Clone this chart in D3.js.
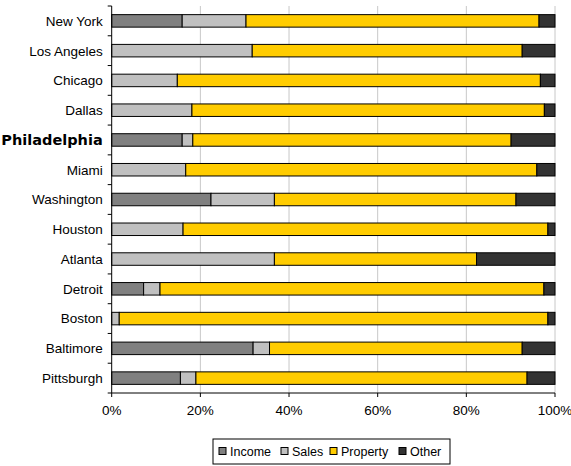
<!DOCTYPE html>
<html>
<head>
<meta charset="utf-8">
<script src="https://cdn.jsdelivr.net/npm/d3@7/dist/d3.min.js"></script>
<style>
  body { margin: 0; background: #fff; }
  svg { display: block; font-family: "Liberation Sans", Arial, sans-serif; }
</style>
</head>
<body>
<div id="chart"></div>
<script>
// city tax revenue shares (%)
var cities = ["New York", "Los Angeles", "Chicago", "Dallas", "Philadelphia", "Miami",
  "Washington", "Houston", "Atlanta", "Detroit", "Boston", "Baltimore", "Pittsburgh"];
var income   = [15.9, 0,    0,    0,    15.9, 0,    22.4, 0,    0,    7.2,  0,    31.9, 15.5];
var sales    = [14.4, 31.7, 14.8, 18.1, 2.4,  16.7, 14.3, 16.1, 36.7, 3.7,  1.7,  3.7,  3.5];
var property = [66.1, 60.9, 81.9, 79.5, 71.8, 79.2, 54.5, 82.3, 45.6, 86.6, 96.7, 57.0, 74.7];
var other    = [3.6,  7.4,  3.3,  2.4,  9.9,  4.1,  8.8,  1.6,  17.7, 2.5,  1.6,  7.4,  6.3];
var seriesNames = ["Income", "Sales", "Property", "Other"];
var colors = ["#808080", "#c0c0c0", "#ffcc00", "#333333"];
var xTicks = [0, 20, 40, 60, 80, 100];

var W = 571, H = 466;
var margin = { top: 6, right: 16, bottom: 73, left: 111.7 };
var width = W - margin.left - margin.right,
    height = H - margin.top - margin.bottom;

var svg = d3.select("#chart").append("svg")
  .attr("width", W).attr("height", H);
var g = svg.append("g")
  .attr("transform", "translate(" + margin.left + "," + margin.top + ")");

var x = d3.scaleLinear().domain([0, 100]).range([0, width]);
var y = d3.scaleBand().domain(cities).range([0, height]).paddingInner(0.58).paddingOuter(0.29);

// build table for stacking
var table = cities.map(function (c, i) {
  return { city: c, Income: income[i], Sales: sales[i], Property: property[i], Other: other[i] };
});
var stacked = d3.stack().keys(seriesNames)(table);

// gridlines
g.selectAll(".grid")
  .data(xTicks.slice(1))
  .enter().append("line")
  .attr("x1", function (d) { return x(d); })
  .attr("x2", function (d) { return x(d); })
  .attr("y1", 0).attr("y2", height)
  .attr("stroke", "#c8c8c8").attr("stroke-width", 1);

// bars
g.selectAll(".series")
  .data(stacked)
  .enter().append("g")
  .attr("fill", function (d, i) { return colors[i]; })
  .selectAll("rect")
  .data(function (d) { return d.filter(function (p) { return p[1] - p[0] > 0; }); })
  .enter().append("rect")
  .attr("x", function (d) { return x(d[0]); })
  .attr("width", function (d) { return x(d[1]) - x(d[0]); })
  .attr("y", function (d) { return y(d.data.city); })
  .attr("height", y.bandwidth())
  .attr("stroke", "#000")
  .attr("stroke-width", 1);

// left axis
var step = y.step();
var bounds = d3.range(cities.length + 1).map(function (i) { return i * step; });
g.append("line")
  .attr("x1", 0).attr("x2", 0).attr("y1", 0).attr("y2", height)
  .attr("stroke", "#000");
g.selectAll(".ytick")
  .data(bounds)
  .enter().append("line")
  .attr("x1", -4).attr("x2", 0)
  .attr("y1", function (d) { return d; }).attr("y2", function (d) { return d; })
  .attr("stroke", "#000");
g.selectAll(".ylab")
  .data(cities)
  .enter().append("text")
  .attr("x", -9)
  .attr("y", function (d) { return y(d) + y.bandwidth() / 2; })
  .attr("dy", "0.36em")
  .attr("text-anchor", "end")
  .attr("fill", "#000")
  .style("font-family", function (d) { return d == "Philadelphia" ? "'DejaVu Sans', sans-serif" : null; })
  .style("font-weight", function (d) { return d == "Philadelphia" ? "bold" : "normal"; })
  .style("font-size", function (d) { return d == "Philadelphia" ? "14.5px" : "13.5px"; })
  .text(function (d) { return d; });

// bottom axis
g.append("line")
  .attr("x1", 0).attr("x2", width).attr("y1", height).attr("y2", height)
  .attr("stroke", "#000");
g.selectAll(".xtick")
  .data(xTicks)
  .enter().append("line")
  .attr("x1", function (d) { return x(d); }).attr("x2", function (d) { return x(d); })
  .attr("y1", height).attr("y2", height + 4)
  .attr("stroke", "#000");
g.selectAll(".xlab")
  .data(xTicks)
  .enter().append("text")
  .attr("x", function (d) { return x(d); })
  .attr("y", height + 22)
  .attr("text-anchor", "middle")
  .style("font-size", "13.5px")
  .text(function (d) { return d + "%"; });

// legend
var legend = svg.append("g").attr("transform", "translate(213,439)");
legend.append("rect")
  .attr("width", 237).attr("height", 25)
  .attr("fill", "#fff").attr("stroke", "#000");
var legX = [6, 68, 117, 186];
var items = legend.selectAll(".item")
  .data(seriesNames)
  .enter().append("g")
  .attr("transform", function (d, i) { return "translate(" + legX[i] + ",0)"; });
items.append("rect")
  .attr("x", 0).attr("y", 8.5)
  .attr("width", 7).attr("height", 7)
  .attr("fill", function (d, i) { return colors[i]; })
  .attr("stroke", "#000");
items.append("text")
  .attr("x", 11).attr("y", 16.5)
  .style("font-size", "12.5px")
  .text(function (d) { return d; });
</script>
</body>
</html>
